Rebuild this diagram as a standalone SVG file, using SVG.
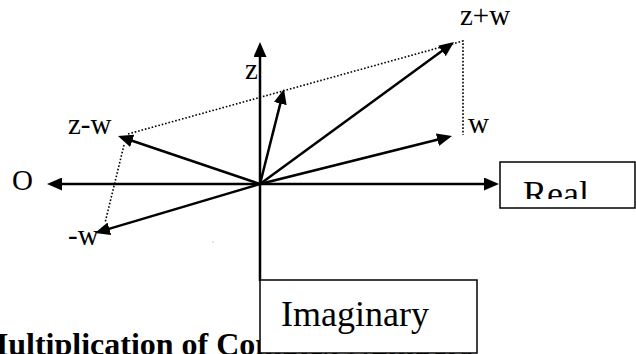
<svg xmlns="http://www.w3.org/2000/svg" width="636" height="354" viewBox="0 0 636 354">
<style>
.t{font-family:'Liberation Serif','Times New Roman','DejaVu Serif',serif;fill:#000}
.lbl{font-size:29px}
.big{font-size:36px}
.ttl{font-size:32px;font-weight:bold}
.vec{stroke:#000;stroke-width:2.5;fill:none;marker-end:url(#ah)}
.ax{stroke:#000;stroke-width:2.5;fill:none}
.dot{stroke:#000;stroke-width:1.6;fill:none;stroke-dasharray:1.6 1.9}
.box{fill:#fff;stroke:#000;stroke-width:1.5}
</style>
<defs>
<marker id="ah" markerUnits="userSpaceOnUse" markerWidth="15" markerHeight="13" viewBox="0 0 15 13" refX="11" refY="6.5" orient="auto">
<path d="M0,0 L15,6.5 L0,13 Z" fill="#000"/>
</marker>
<clipPath id="realclip"><rect x="501" y="163" width="134" height="36"/></clipPath>
</defs>
<rect width="636" height="354" fill="#fff"/>
<g id="title">
<text class="t ttl" x="-22" y="355">Multiplication of Complex Numbers</text>
</g>
<g id="connectors">
<line class="vec" x1="260" y1="184" x2="260" y2="46"/>
<line class="vec" x1="260" y1="184" x2="51" y2="184"/>
<line class="vec" x1="260" y1="184" x2="495" y2="184"/>
<line class="ax" x1="260" y1="184" x2="260" y2="281"/>
<line class="vec" x1="260" y1="184" x2="283" y2="92.9"/>
<line class="vec" x1="260" y1="184" x2="450.8" y2="44.4"/>
<line class="vec" x1="260" y1="184" x2="448.1" y2="137"/>
<line class="vec" x1="260" y1="184" x2="121.8" y2="137.3"/>
<line class="vec" x1="260" y1="184" x2="98.8" y2="231.9"/>
<polyline class="dot" points="128,134 463,41 463,135"/>
<line class="dot" x1="124" y1="145" x2="105" y2="223"/>
</g>
<g id="node-real">
<rect class="box" x="500" y="162" width="135" height="46"/>
<text class="t big" x="523" y="205.5" clip-path="url(#realclip)">Real</text>
</g>
<g id="node-imaginary">
<rect class="box" x="260" y="280" width="217" height="73"/>
<text class="t big" x="281" y="326">Imaginary</text>
</g>
<g id="label-z"><text class="t lbl" x="245" y="79">z</text></g>
<g id="label-zpw"><text class="t lbl" x="460" y="25">z+w</text></g>
<g id="label-w"><text class="t lbl" x="468" y="133">w</text></g>
<g id="label-zmw"><text class="t lbl" x="68" y="134">z-w</text></g>
<g id="label-mw"><text class="t lbl" x="68" y="245">-w</text></g>
<g id="label-o"><text class="t lbl" x="12" y="190">O</text></g>
<rect x="212.5" y="241.5" width="1" height="1" fill="#999"/>
</svg>
